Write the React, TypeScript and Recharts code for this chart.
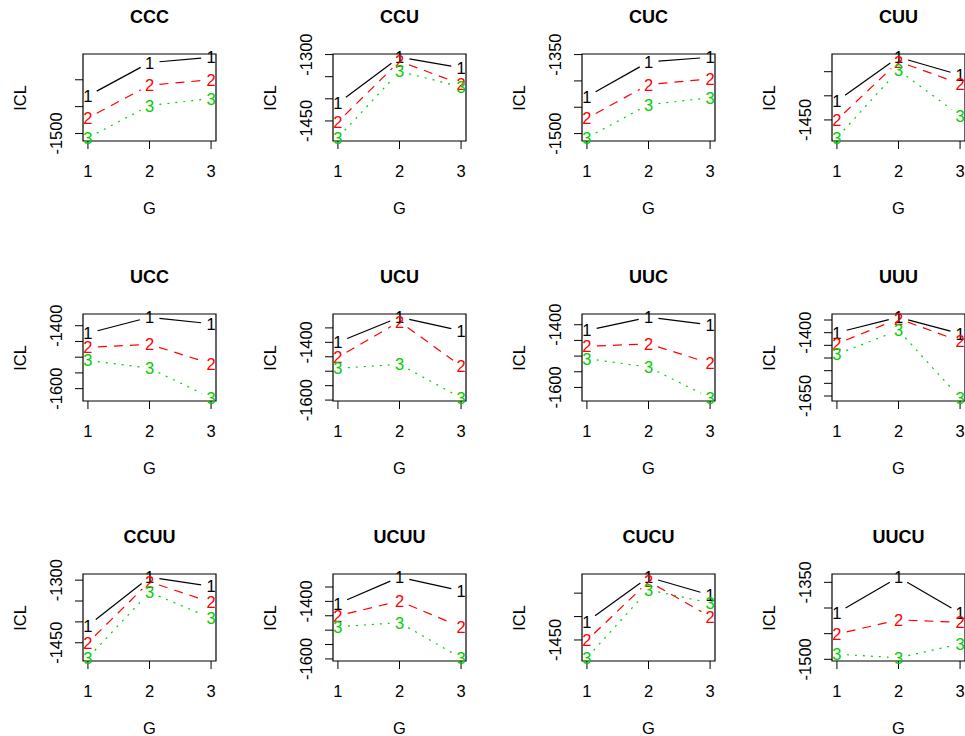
import { LineChart, Line, XAxis, YAxis, ReferenceArea } from "recharts";

const panelNames = ["CCC", "CCU", "CUC", "CUU", "UCC", "UCU", "UUC", "UUU", "CCUU", "UCUU", "CUCU", "UUCU"];
const groups = [1, 2, 3];
const seriesLabels = ["1", "2", "3"];

// ICL values at G = 1, 2, 3 for each panel
const icl1 = [
  [-1430, -1368, -1358],
  [-1410, -1306, -1330],
  [-1430, -1364, -1355],
  [-1411, -1320, -1357],
  [-1424, -1373, -1394],
  [-1400, -1313, -1360],
  [-1418, -1376, -1400],
  [-1400, -1339, -1404],
  [-1409, -1293, -1315],
  [-1408, -1316, -1363],
  [-1411, -1316, -1354],
  [-1410, -1340, -1410],
];
const icl2 = [
  [-1471, -1410, -1400],
  [-1452, -1315, -1367],
  [-1471, -1407, -1396],
  [-1450, -1329, -1375],
  [-1469, -1459, -1521],
  [-1452, -1328, -1482],
  [-1469, -1461, -1523],
  [-1444, -1345, -1434],
  [-1450, -1304, -1353],
  [-1450, -1399, -1489],
  [-1451, -1325, -1400],
  [-1451, -1423, -1428],
];
const icl3 = [
  [-1508, -1448, -1435],
  [-1488, -1338, -1373],
  [-1508, -1445, -1432],
  [-1487, -1347, -1441],
  [-1510, -1535, -1629],
  [-1490, -1476, -1592],
  [-1508, -1535, -1633],
  [-1485, -1391, -1657],
  [-1486, -1329, -1391],
  [-1488, -1474, -1596],
  [-1488, -1343, -1371],
  [-1490, -1497, -1470],
];

const colors = ["#000000", "#FF0000", "#00CD00"];
const dashes = [undefined, "9 7", "2 6"];

const W = 250;
const H = 260;
const BOX_L = 83;
const BOX_T = 54;
const BOX_W = 133;
const BOX_H = 87;
const colLeft = [0, 250, 499, 749];
const rowTop = [0, 260, 520];
const FONT = "'Liberation Sans', Arial, Helvetica, sans-serif";
const FS = 16.5;
const GAP = 10;

function LabelDot(props: any) {
  const { cx, cy, index, points, s } = props;
  const color = colors[s];
  let seg = null;
  if (points && index < points.length - 1) {
    const nx = points[index + 1].x;
    const ny = points[index + 1].y;
    const dx = nx - cx;
    const dy = ny - cy;
    const len = Math.sqrt(dx * dx + dy * dy);
    if (len > 2 * GAP) {
      const ux = dx / len;
      const uy = dy / len;
      seg = (
        <line
          x1={cx + ux * GAP}
          y1={cy + uy * GAP}
          x2={nx - ux * GAP}
          y2={ny - uy * GAP}
          stroke={color}
          strokeWidth={1.2}
          strokeDasharray={dashes[s]}
        />
      );
    }
  }
  return (
    <g>
      {seg}
      <text
        x={cx}
        y={cy}
        textAnchor="middle"
        dominantBaseline="central"
        fontSize={FS}
        fontFamily={FONT}
        fill={color}
      >
        {seriesLabels[s]}
      </text>
    </g>
  );
}

function Panel({ p }: { p: number }) {
  const data = groups.map((g, i) => ({ G: g, s0: icl1[p][i], s1: icl2[p][i], s2: icl3[p][i] }));
  const all = [...icl1[p], ...icl2[p], ...icl3[p]];
  const mn = Math.min(...all);
  const mx = Math.max(...all);
  const lo = mn - 0.04 * (mx - mn);
  const hi = mx + 0.04 * (mx - mn);
  const ticks: number[] = [];
  for (let v = Math.ceil(lo / 50) * 50; v <= hi; v += 50) ticks.push(v);
  // R drops tick labels that would overlap the previous one drawn
  const shown = new Set<number>();
  let last = -Infinity;
  ticks.forEach((v) => {
    const pos = ((v - lo) / (hi - lo)) * BOX_H;
    if (pos - last >= 55) {
      shown.add(v);
      last = pos;
    }
  });

  const col = p % 4;
  const row = Math.floor(p / 4);
  const textStyle = { position: "absolute" as const, fontFamily: FONT, fontSize: FS, color: "#000", whiteSpace: "nowrap" as const, lineHeight: 1 };

  return (
    <div style={{ position: "absolute", left: colLeft[col], top: rowTop[row], width: W, height: H }}>
      <LineChart
        width={W}
        height={H}
        data={data}
        margin={{ top: BOX_T, left: BOX_L - 60, right: W - BOX_L - BOX_W, bottom: H - BOX_T - BOX_H - 40 }}
      >
        <XAxis
          dataKey="G"
          type="number"
          domain={[0.92, 3.08]}
          ticks={groups}
          interval={0}
          height={40}
          axisLine={false}
          tickSize={8}
          tickLine={{ stroke: "#000", strokeWidth: 1 }}
          tick={(t: any) => (
            <text x={t.x} y={t.y + 20} textAnchor="middle" dominantBaseline="central" fontSize={FS} fontFamily={FONT} fill="#000">
              {t.payload.value}
            </text>
          )}
        />
        <YAxis
          type="number"
          domain={[lo, hi]}
          ticks={ticks}
          interval={0}
          width={60}
          axisLine={false}
          tickSize={8}
          tickLine={{ stroke: "#000", strokeWidth: 1 }}
          tick={(t: any) =>
            shown.has(t.payload.value) ? (
              <text
                transform={`translate(${t.x - 17},${t.y}) rotate(-90)`}
                textAnchor="middle"
                dominantBaseline="central"
                fontSize={FS}
                fontFamily={FONT}
                fill="#000"
              >
                {t.payload.value}
              </text>
            ) : (
              <g />
            )
          }
        />
        <ReferenceArea x1={0.92} x2={3.08} y1={lo} y2={hi} fill="none" stroke="#000" strokeWidth={1.2} />
        {[0, 1, 2].map((s) => (
          <Line
            key={s}
            dataKey={`s${s}`}
            stroke="none"
            isAnimationActive={false}
            dot={(dp: any) => <LabelDot key={`d${s}-${dp.index}`} {...dp} s={s} />}
            activeDot={false}
          />
        ))}
      </LineChart>
      <div style={{ ...textStyle, left: BOX_L + BOX_W / 2, top: 17, transform: "translate(-50%,-50%)", fontWeight: "bold", fontSize: 18 }}>
        {panelNames[p]}
      </div>
      <div style={{ ...textStyle, left: 20, top: BOX_T + BOX_H / 2, transform: "translate(-50%,-50%) rotate(-90deg)" }}>ICL</div>
      <div style={{ ...textStyle, left: BOX_L + BOX_W / 2, top: 208, transform: "translate(-50%,-50%)" }}>G</div>
    </div>
  );
}

export default function App() {
  return (
    <div style={{ position: "absolute", left: 0, top: 0, width: 965, height: 736, overflow: "hidden", background: "#fff" }}>
      {panelNames.map((_, p) => (
        <Panel key={p} p={p} />
      ))}
    </div>
  );
}
